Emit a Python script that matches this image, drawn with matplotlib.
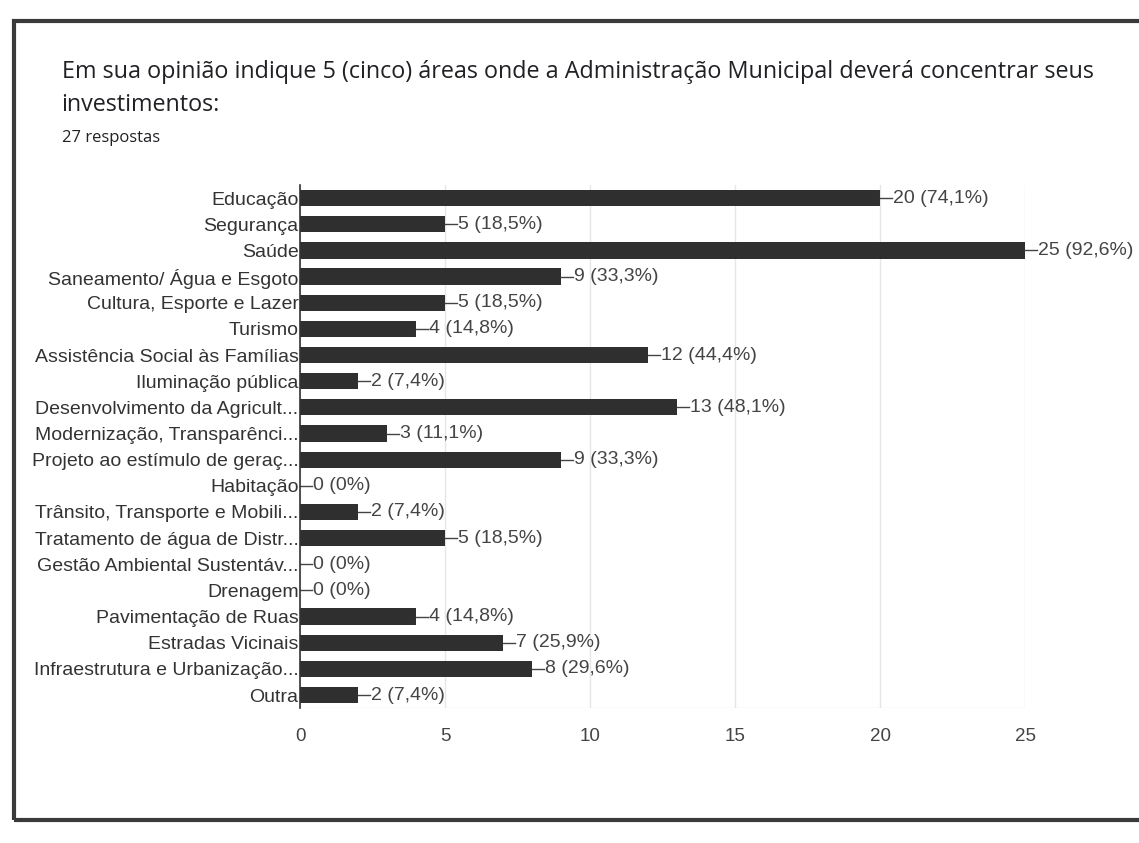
import matplotlib
matplotlib.use("Agg")
import matplotlib.pyplot as plt
from matplotlib.patches import Rectangle
from matplotlib.lines import Line2D

title_line1 = "Em sua opinião indique 5 (cinco) áreas onde a Administração Municipal deverá concentrar seus"
title_line2 = "investimentos:"
subtitle = "27 respostas"
total_responses = 27

categories = [
    "Educação", "Segurança", "Saúde", "Saneamento/ Água e Esgoto",
    "Cultura, Esporte e Lazer", "Turismo", "Assistência Social às Famílias",
    "Iluminação pública", "Desenvolvimento da Agricult...",
    "Modernização, Transparênci...", "Projeto ao estímulo de geraç...",
    "Habitação", "Trânsito, Transporte e Mobili...", "Tratamento de água de Distr...",
    "Gestão Ambiental Sustentáv...", "Drenagem", "Pavimentação de Ruas",
    "Estradas Vicinais", "Infraestrutura e Urbanização...", "Outra",
]
values = [20, 5, 25, 9, 5, 4, 12, 2, 13, 3, 9, 0, 2, 5, 0, 0, 4, 7, 8, 2]
x_ticks = [0, 5, 10, 15, 20, 25]

FONT = ["Liberation Sans", "DejaVu Sans"]
TFONT = ["Open Sans", "DejaVu Sans"]

fig = plt.figure(figsize=(11.39, 8.43), dpi=100)
fig.patch.set_facecolor("white")

# card frame
fig.add_artist(Rectangle((0.012, 0.027), 1.2, 0.948, transform=fig.transFigure,
                         fill=False, edgecolor="#3a3a3a", linewidth=3))

fig.text(0.054, 0.914, title_line1, fontsize=16.8, family=TFONT, color="#202124", va="center")
fig.text(0.054, 0.875, title_line2, fontsize=16.8, family=TFONT, color="#202124", va="center")
fig.text(0.054, 0.836, subtitle, fontsize=12, family=TFONT, color="#202124", va="center")

ax = fig.add_axes([0.2634, 0.160, 0.6366, 0.6205])
n = len(categories)
ypos = list(range(n))
ax.barh(ypos, values, height=0.62, color="#2f2f2f", zorder=3)
ax.set_ylim(n - 0.5, -0.5)
ax.set_xlim(0, 25)
ax.set_yticks(ypos)
ax.set_yticklabels(categories, fontsize=14, family=FONT, color="#333333")
ax.set_xticks(x_ticks)
ax.set_xticklabels([str(t) for t in x_ticks], fontsize=13.5, family=FONT, color="#444444")
ax.tick_params(axis="y", length=0, pad=1)
ax.tick_params(axis="x", length=0, pad=14)
for s in ["top", "right", "bottom"]:
    ax.spines[s].set_visible(False)
ax.spines["left"].set_color("#333333")
ax.spines["left"].set_linewidth(1.2)
ax.spines["left"].set_zorder(4)
ax.grid(axis="x", color="#e6e6e6", linewidth=1, zorder=0)
ax.axhline(n - 0.5, color="#ececec", linewidth=1, zorder=0)

for y, v in zip(ypos, values):
    pct = v / total_responses * 100
    pct_s = "0%" if v == 0 else f"{pct:.1f}".replace(".", ",") + "%"
    ax.add_line(Line2D([v, v + 0.42], [y, y], color="#444444", linewidth=1, zorder=4, clip_on=False))
    ax.text(v + 0.45, y, f"{v} ({pct_s})", fontsize=14, family=FONT, color="#444444",
            va="center", ha="left", clip_on=False)

fig.savefig("out.png", dpi=100, facecolor="white")
